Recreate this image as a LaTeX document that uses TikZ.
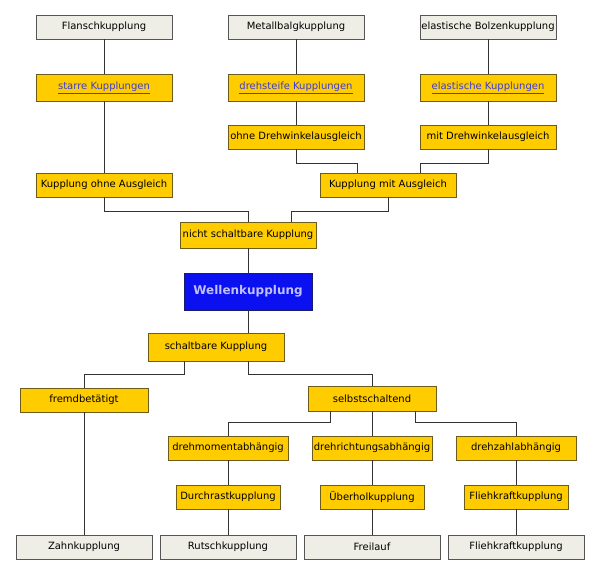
\documentclass[tikz,border=0pt]{standalone}
\usepackage{fontspec}
\newfontfamily\boxfamily{DejaVu Sans}
\newcommand*{\boxfont}{\boxfamily\fontsize{10}{12}\selectfont}
\newcommand*{\rootfont}{\boxfamily\bfseries\fontsize{12}{14}\selectfont}
\newcommand*{\linktext}[1]{\textcolor{link}{\underline{#1}}}
\definecolor{gold}{HTML}{FFCC00}
\definecolor{goldline}{HTML}{6E5C1A}
\definecolor{paper}{HTML}{EEEEE6}
\definecolor{paperline}{HTML}{555555}
\definecolor{root}{HTML}{0A10F0}
\definecolor{rootline}{HTML}{1A1A70}
\definecolor{roottext}{HTML}{C0C0FF}
\definecolor{link}{HTML}{3C3CD8}
\usetikzlibrary{positioning}
\tikzstyle{base}=[x=1pt, y=-1pt, inner sep=0pt, outer sep=0pt, line width=0.8pt]
\tikzstyle{plainbox}=[draw=paperline, fill=paper, minimum width=136, minimum height=24, font=\boxfont]
\tikzstyle{classbox}=[draw=goldline, fill=gold, minimum width=136, minimum height=24, font=\boxfont]
\tikzstyle{rootbox}=[draw=rootline, fill=root, text=roottext, minimum width=128, minimum height=37, font=\rootfont]
\tikzstyle{wire}=[draw=black!80, line width=0.7pt]
\begin{document}
\begin{tikzpicture}[base]
    \path [use as bounding box] (0,0) rectangle (599,573);
        % top half
        \node [plainbox] (flansch) at (104,27) {Flanschkupplung};
        \node [plainbox] (metall) at (296,27) {Metallbalgkupplung};
        \node [plainbox] (bolzen) at (488,27) {elastische Bolzenkupplung};
        \node [classbox, minimum height=27] (starr) at (104,87.5) {\linktext{starre Kupplungen}};
        \node [classbox, minimum height=27] (drehsteif) at (296,87.5) {\linktext{drehsteife Kupplungen}};
        \node [classbox, minimum height=27] (elastisch) at (488,87.5) {\linktext{elastische Kupplungen}};
        \node [classbox] (ohnedw) at (296,137) {ohne Drehwinkelausgleich};
        \node [classbox] (mitdw) at (488,137) {mit Drehwinkelausgleich};
        \node [classbox] (ohneaus) at (104,185) {Kupplung ohne Ausgleich};
        \node [classbox] (mitaus) at (388,185) {Kupplung mit Ausgleich};
        \node [classbox, minimum height=26] (nichtschalt) at (248,235) {nicht schaltbare Kupplung};
        \node [rootbox] (welle) at (248,291.5) {Wellenkupplung};
        % bottom half
        \node [classbox, minimum height=28] (schalt) at (216,347) {schaltbare Kupplung};
        \node [classbox, minimum width=128] (fremd) at (84,400) {fremdbetätigt};
        \node [classbox, minimum width=128, minimum height=25] (selbst) at (372,398.5) {selbstschaltend};
        \node [classbox, minimum width=120] (moment) at (228,448) {drehmomentabhängig};
        \node [classbox, minimum width=120] (richtung) at (372,448) {drehrichtungsabhängig};
        \node [classbox, minimum width=120] (zahl) at (516,448) {drehzahlabhängig};
        \node [classbox, minimum width=104] (durchrast) at (228,497) {Durchrastkupplung};
        \node [classbox, minimum width=104] (ueberhol) at (372,497) {Überholkupplung};
        \node [classbox, minimum width=104] (fliehgelb) at (516,497) {Fliehkraftkupplung};
        \node [plainbox] (zahn) at (84,547) {Zahnkupplung};
        \node [plainbox] (rutsch) at (228,547) {Rutschkupplung};
        \node [plainbox] (frei) at (372,547) {Freilauf};
        \node [plainbox] (fliehgrau) at (516,547) {Fliehkraftkupplung};
        % connectors
        \draw [wire] (flansch) -- (starr) -- (ohneaus);
        \draw [wire] (metall) -- (drehsteif) -- (ohnedw);
        \draw [wire] (bolzen) -- (elastisch) -- (mitdw);
        \draw [wire] (ohnedw.south) -- ++(0,14) -| ([xshift=-31]mitaus.north);
        \draw [wire] (mitdw.south) -- ++(0,14) -| ([xshift=32]mitaus.north);
        \draw [wire] (ohneaus.south) -- ++(0,14) -| (nichtschalt.north);
        \draw [wire] (mitaus.south) -- ++(0,14) -| ([xshift=43]nichtschalt.north);
        \draw [wire] (nichtschalt) -- (welle);
        \draw [wire] (welle) -- ([xshift=32]schalt.north);
        \draw [wire] ([xshift=-32]schalt.south) -- ++(0,13) -| (fremd.north);
        \draw [wire] ([xshift=32]schalt.south) -- ++(0,13) -| (selbst.north);
        \draw [wire] ([xshift=-42]selbst.south) -- ++(0,11) -| (moment.north);
        \draw [wire] (selbst) -- (richtung);
        \draw [wire] ([xshift=43]selbst.south) -- ++(0,11) -| (zahl.north);
        \draw [wire] (fremd) -- (zahn);
        \draw [wire] (moment) -- (durchrast) -- (rutsch);
        \draw [wire] (richtung) -- (ueberhol) -- (frei);
        \draw [wire] (zahl) -- (fliehgelb) -- (fliehgrau);
    \end{tikzpicture}
\end{document}
